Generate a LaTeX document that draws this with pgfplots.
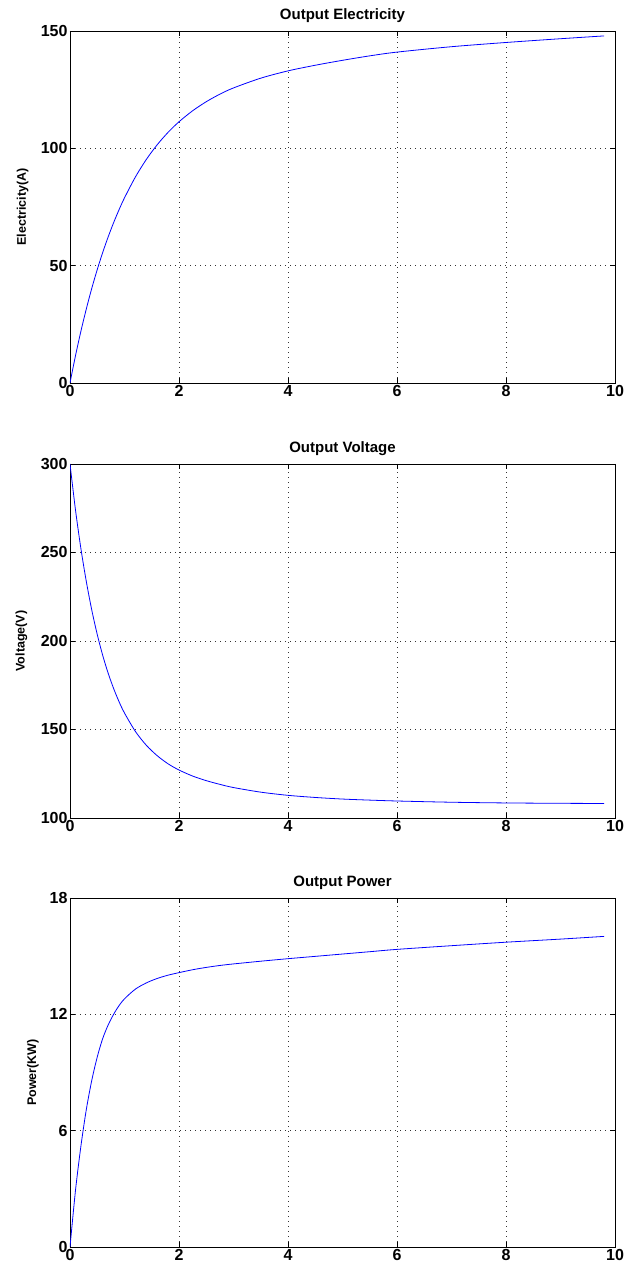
\documentclass[border=0pt]{standalone}
\usepackage{fontspec}
\setmainfont{Liberation Sans}
\usepackage{pgfplots}
\usepackage{pgfplotstable}
\pgfplotsset{compat=1.18}

% current (A), voltage (V) and power (kW)
\pgfplotstableread{
t    I       V      P
0    0       300    0
0.1  11.54   274.2  2.90
0.2  22.05   252.2  5.20
0.3  31.63   233.5  7.10
0.4  40.37   217.4  8.60
0.5  48.33   203.7  9.80
0.6  55.60   191.9  10.75
0.7  62.23   181.8  11.45
0.8  68.30   173.2  12.00
0.9  73.83   165.7  12.45
1.0  78.90   159.3  12.80
1.2  87.78   148.9  13.30
1.4  95.24   141.1  13.62
1.6  101.52  135.2  13.85
1.8  106.82  130.6  14.02
2.0  111.31  127.1  14.15
2.25 116.00  123.7  14.30
2.5  119.86  121.1  14.42
2.75 123.07  119.0  14.52
3.0  125.73  117.2  14.60
3.5  129.89  114.6  14.74
4.0  133.00  112.8  14.87
4.5  135.40  111.6  14.99
5.0  137.50  110.7  15.11
5.5  139.40  110.1  15.23
6.0  141.00  109.6  15.35
7.0  143.30  108.9  15.54
8.0  145.10  108.5  15.72
9.0  146.70  108.3  15.88
9.8  147.90  108.2  16.02
}\gen

\pgfplotsset{
  matlab/.style={
    scale only axis,
    width=545pt,
    xmin=0, xmax=10,
    xtick={0,2,...,10},
    tick align=inside,
    major tick length=5pt,
    tick style={black, line width=0.6pt},
    axis line style={black, line width=0.9pt},
    grid=major,
    major grid style={black!80, line width=0.6pt, dash pattern=on 0.7pt off 4.3pt},
    /pgf/number format/assume math mode=true,
    tick label style={font=\fontsize{16}{16}\selectfont\bfseries},
    xticklabel style={yshift=1pt},
    yticklabel style={xshift=1pt},
    title style={font=\fontsize{15}{15}\selectfont\bfseries, at={(axis description cs:0.5,1)}, anchor=center, yshift=9pt},
    ylabel style={font=\fontsize{12.5}{13}\selectfont\bfseries, anchor=center},
    every axis plot/.append style={blue, line width=0.8pt, smooth, no marks},
  }
}

\begin{document}
\begin{tikzpicture}
\begin{axis}[matlab, at={(70pt,882pt)}, anchor=south west, height=352pt,
  ymin=0, ymax=150, ytick={0,50,100,150},
  title={Output Electricity}, ylabel={Electricity(A)},
  ylabel style={at={(axis description cs:-0.087,0.5)}}]
\addplot table[x=t, y=I] {\gen};
\end{axis}

\begin{axis}[matlab, at={(70pt,447pt)}, anchor=south west, height=354pt,
  ymin=100, ymax=300, ytick={100,150,200,250,300},
  title={Output Voltage}, ylabel={Voltage(V)},
  ylabel style={at={(axis description cs:-0.089,0.5)}}]
\addplot table[x=t, y=V] {\gen};
\end{axis}

\begin{axis}[matlab, at={(70pt,18pt)}, anchor=south west, height=349pt,
  ymin=0, ymax=18, ytick={0,6,12,18},
  title={Output Power}, ylabel={Power(KW)},
  ylabel style={at={(axis description cs:-0.068,0.5)}}]
\addplot table[x=t, y=P] {\gen};
\end{axis}

\pgfresetboundingbox
\path[use as bounding box] (0pt,0pt) rectangle (625pt,1265pt);
\end{tikzpicture}
\end{document}
